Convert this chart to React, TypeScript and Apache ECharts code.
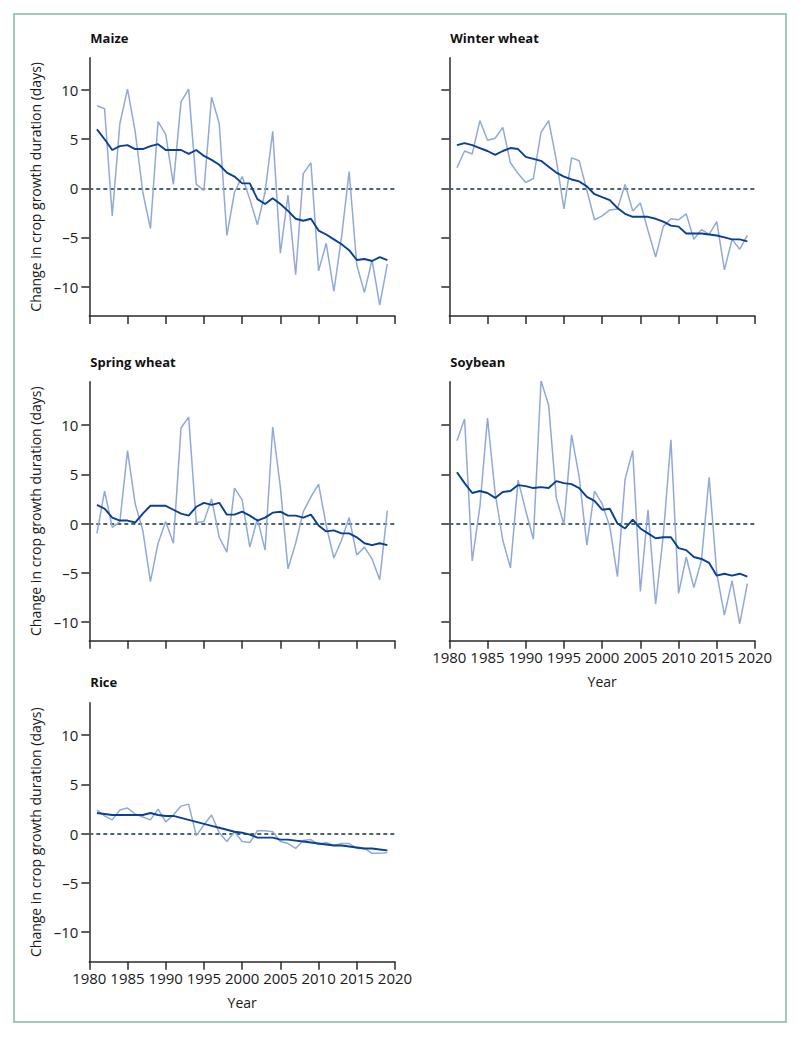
import React, { useEffect, useRef } from "react";
import * as echarts from "echarts";

const years = [
  1981, 1982, 1983, 1984, 1985, 1986, 1987, 1988, 1989, 1990,
  1991, 1992, 1993, 1994, 1995, 1996, 1997, 1998, 1999, 2000,
  2001, 2002, 2003, 2004, 2005, 2006, 2007, 2008, 2009, 2010,
  2011, 2012, 2013, 2014, 2015, 2016, 2017, 2018, 2019,
];

const maizeAnnual = [
  8.4, 8.1, -2.8, 6.6, 10.1, 5.8, -0.4, -4.1, 6.8, 5.5,
  0.4, 8.8, 10.1, 0.4, -0.2, 9.3, 6.6, -4.8, -0.4, 1.2,
  -1.1, -3.7, -0.4, 5.8, -6.6, -0.7, -8.8, 1.5, 2.6, -8.4,
  -5.6, -10.5, -5.0, 1.7, -7.8, -10.6, -7.3, -11.9, -7.7,
];
const maizeTrend = [
  6.0, 5.0, 3.9, 4.3, 4.4, 4.0, 4.0, 4.3, 4.5, 3.9,
  3.9, 3.9, 3.5, 3.9, 3.3, 2.9, 2.4, 1.6, 1.2, 0.5,
  0.5, -1.1, -1.6, -1.0, -1.6, -2.3, -3.1, -3.3, -3.1, -4.3,
  -4.7, -5.2, -5.7, -6.3, -7.3, -7.2, -7.4, -7.0, -7.3,
];

const winterAnnual = [
  2.1, 3.8, 3.5, 6.9, 4.9, 5.1, 6.2, 2.6, 1.5, 0.6,
  1.0, 5.7, 6.9, 2.9, -2.1, 3.1, 2.8, -0.2, -3.2, -2.8,
  -2.2, -2.1, 0.4, -2.3, -1.5, -4.3, -7.0, -3.9, -3.1, -3.2,
  -2.6, -5.2, -4.2, -4.7, -3.4, -8.3, -5.2, -6.2, -4.8,
];
const winterTrend = [
  4.4, 4.6, 4.4, 4.1, 3.8, 3.4, 3.8, 4.1, 4.0, 3.2,
  3.0, 2.8, 2.2, 1.6, 1.2, 0.9, 0.7, 0.2, -0.6, -0.9,
  -1.2, -2.0, -2.6, -2.9, -2.9, -2.9, -3.1, -3.4, -3.8, -3.9,
  -4.6, -4.6, -4.6, -4.7, -4.8, -5.0, -5.2, -5.2, -5.4,
];

const springAnnual = [
  -1.0, 3.3, -0.4, 0.2, 7.4, 2.0, -0.7, -5.9, -2.0, 0.2,
  -2.0, 9.7, 10.8, 0.1, 0.2, 2.5, -1.4, -2.9, 3.6, 2.4,
  -2.4, 0.5, -2.7, 9.8, 3.7, -4.6, -2.0, 1.2, 2.7, 4.0,
  -0.2, -3.5, -1.7, 0.6, -3.2, -2.4, -3.6, -5.7, 1.3,
];
const springTrend = [
  1.9, 1.5, 0.6, 0.3, 0.3, 0.1, 1.0, 1.8, 1.8, 1.8,
  1.4, 1.0, 0.8, 1.7, 2.1, 1.9, 2.1, 0.9, 0.9, 1.2,
  0.8, 0.3, 0.6, 1.1, 1.2, 0.8, 0.8, 0.6, 0.9, -0.2,
  -0.8, -0.7, -1.0, -1.0, -1.4, -2.0, -2.2, -2.0, -2.2,
];

const soyAnnual = [
  8.4, 10.6, -3.8, 1.7, 10.7, 3.1, -1.7, -4.5, 4.4, 1.3,
  -1.6, 14.5, 12.0, 2.6, -0.1, 9.0, 4.7, -2.2, 3.3, 2.0,
  -0.3, -5.4, 4.5, 7.4, -6.9, 1.4, -8.2, -1.2, 8.5, -7.1,
  -3.4, -6.5, -3.7, 4.7, -5.1, -9.3, -5.8, -10.2, -6.1,
];
const soyTrend = [
  5.2, 4.1, 3.1, 3.3, 3.1, 2.6, 3.2, 3.3, 3.9, 3.8,
  3.6, 3.7, 3.6, 4.3, 4.1, 4.0, 3.6, 2.7, 2.3, 1.4,
  1.5, 0.0, -0.5, 0.4, -0.5, -1.0, -1.5, -1.4, -1.4, -2.5,
  -2.7, -3.4, -3.6, -4.0, -5.3, -5.1, -5.3, -5.1, -5.4,
];

const riceAnnual = [
  2.4, 1.8, 1.4, 2.4, 2.6, 2.0, 1.7, 1.4, 2.5, 1.2,
  1.9, 2.8, 3.0, -0.2, 0.9, 1.9, 0.1, -0.8, 0.2, -0.8,
  -0.9, 0.3, 0.3, 0.2, -0.8, -1.0, -1.5, -0.7, -0.6, -1.1,
  -0.9, -1.2, -1.0, -1.0, -1.5, -1.5, -2.0, -2.0, -1.9,
];
const riceTrend = [
  2.1, 2.0, 1.9, 1.9, 1.9, 1.9, 1.9, 2.1, 1.9, 1.8,
  1.8, 1.6, 1.4, 1.2, 1.0, 0.8, 0.6, 0.4, 0.2, 0.1,
  -0.1, -0.4, -0.4, -0.4, -0.6, -0.6, -0.7, -0.8, -0.9, -1.0,
  -1.1, -1.2, -1.2, -1.3, -1.4, -1.5, -1.5, -1.6, -1.7,
];

const yTickValues = [-10, -5, 0, 5, 10];
const xMin = 1980;
const xMax = 2020;
const xStep = 5;
const yAxisTitle = "Change in crop growth duration (days)";
const xAxisTitle = "Year";

const panels = [
  { title: "Maize", annual: maizeAnnual, trend: maizeTrend, col: 0, row: 0, yLabels: true, xLabels: false },
  { title: "Winter wheat", annual: winterAnnual, trend: winterTrend, col: 1, row: 0, yLabels: false, xLabels: false },
  { title: "Spring wheat", annual: springAnnual, trend: springTrend, col: 0, row: 1, yLabels: true, xLabels: false },
  { title: "Soybean", annual: soyAnnual, trend: soyTrend, col: 1, row: 1, yLabels: false, xLabels: true },
  { title: "Rice", annual: riceAnnual, trend: riceTrend, col: 0, row: 2, yLabels: true, xLabels: true },
];

const colLeft = [89.3, 449.3];
const rowTop = [57.7, 381.7, 702.7];
const rowHeight = [258.3, 259, 259];
const rowMin = [-13, -11.9, -13];
const rowMax = [13.3, 14.4, 13.3];
const titleY = [37.5, 361.5, 682];
const gridWidth = 305.7;

const FONT = "'Open Sans', 'Noto Sans', sans-serif";
const AXIS_COLOR = "#2b2b2b";
const LIGHT = "#91a9d9";
const DARK = "#0a3f92";
const ZERO = "#4a6470";

export default function App() {
  const ref = useRef<HTMLDivElement>(null);

  useEffect(() => {
    if (!ref.current) return;
    const chart = echarts.init(ref.current, null, { renderer: "svg" });

    const grids: any[] = [];
    const xAxes: any[] = [];
    const yAxes: any[] = [];
    const series: any[] = [];
    const graphics: any[] = [
      {
        type: "rect",
        shape: { x: 14, y: 14, width: 772, height: 1008 },
        style: { fill: "none", stroke: "#80bb9d", lineWidth: 1.5 },
        silent: true,
      },
    ];

    panels.forEach((p, i) => {
      grids.push({
        left: colLeft[p.col],
        top: rowTop[p.row],
        width: gridWidth,
        height: rowHeight[p.row],
        outerBoundsMode: "none",
        containLabel: false,
      });
      xAxes.push({
        type: "value",
        gridIndex: i,
        min: xMin,
        max: xMax,
        interval: xStep,
        splitLine: { show: false },
        axisLine: { show: true, onZero: false, lineStyle: { color: AXIS_COLOR, width: 1.5 } },
        axisTick: { show: true, inside: false, length: 8, lineStyle: { color: AXIS_COLOR, width: 1.5 } },
        axisLabel: {
          show: p.xLabels,
          margin: 9,
          color: "#1a1a1a",
          fontSize: 15,
          fontFamily: FONT,
          showMinLabel: true,
          showMaxLabel: true,
          formatter: (v: number) => String(v),
        },
        name: p.xLabels ? xAxisTitle : "",
        nameLocation: "middle",
        nameGap: 34,
        nameTextStyle: { color: "#1a1a1a", fontSize: 14, fontFamily: FONT },
      });
      yAxes.push({
        type: "value",
        gridIndex: i,
        min: rowMin[p.row],
        max: rowMax[p.row],
        splitLine: { show: false },
        axisLine: { show: true, onZero: false, lineStyle: { color: AXIS_COLOR, width: 1.5 } },
        axisTick: {
          show: true,
          inside: false,
          length: 8,
          customValues: yTickValues,
          lineStyle: { color: AXIS_COLOR, width: 1.5 },
        },
        axisLabel: {
          show: p.yLabels,
          customValues: yTickValues,
          margin: 11,
          color: "#1a1a1a",
          fontSize: 15,
          fontFamily: FONT,
          formatter: (v: number) => (v < 0 ? "\u2013" + Math.abs(v) : String(v)),
        },
        name: p.yLabels ? yAxisTitle : "",
        nameLocation: "middle",
        nameRotate: 90,
        nameGap: 47,
        nameTextStyle: { color: "#1a1a1a", fontSize: 14, fontFamily: FONT },
      });
      series.push({
        type: "line",
        xAxisIndex: i,
        yAxisIndex: i,
        data: years.map((y, k) => [y, p.annual[k]]),
        symbol: "none",
        lineStyle: { color: LIGHT, width: 1.5 },
        silent: true,
        z: 2,
      });
      series.push({
        type: "line",
        xAxisIndex: i,
        yAxisIndex: i,
        data: years.map((y, k) => [y, p.trend[k]]),
        symbol: "none",
        lineStyle: { color: DARK, width: 1.9 },
        silent: true,
        z: 3,
        markLine: {
          silent: true,
          symbol: ["none", "none"],
          label: { show: false },
          lineStyle: { color: ZERO, type: [4, 3], width: 2 },
          data: [{ yAxis: 0 }],
          z: 1,
        },
      });
      graphics.push({
        type: "text",
        x: colLeft[p.col] + 1,
        y: titleY[p.row],
        style: {
          text: p.title,
          fontSize: 13,
          fontWeight: "bold",
          fontFamily: FONT,
          fill: "#111",
          verticalAlign: "middle",
          align: "left",
        },
        silent: true,
      });
    });

    chart.setOption({
      animation: false,
      backgroundColor: "#ffffff",
      grid: grids,
      xAxis: xAxes,
      yAxis: yAxes,
      series,
      graphic: graphics,
    });

    return () => chart.dispose();
  }, []);

  return (
    <div
      ref={ref}
      style={{ position: "absolute", left: 0, top: 0, width: 800, height: 1037 }}
    />
  );
}
